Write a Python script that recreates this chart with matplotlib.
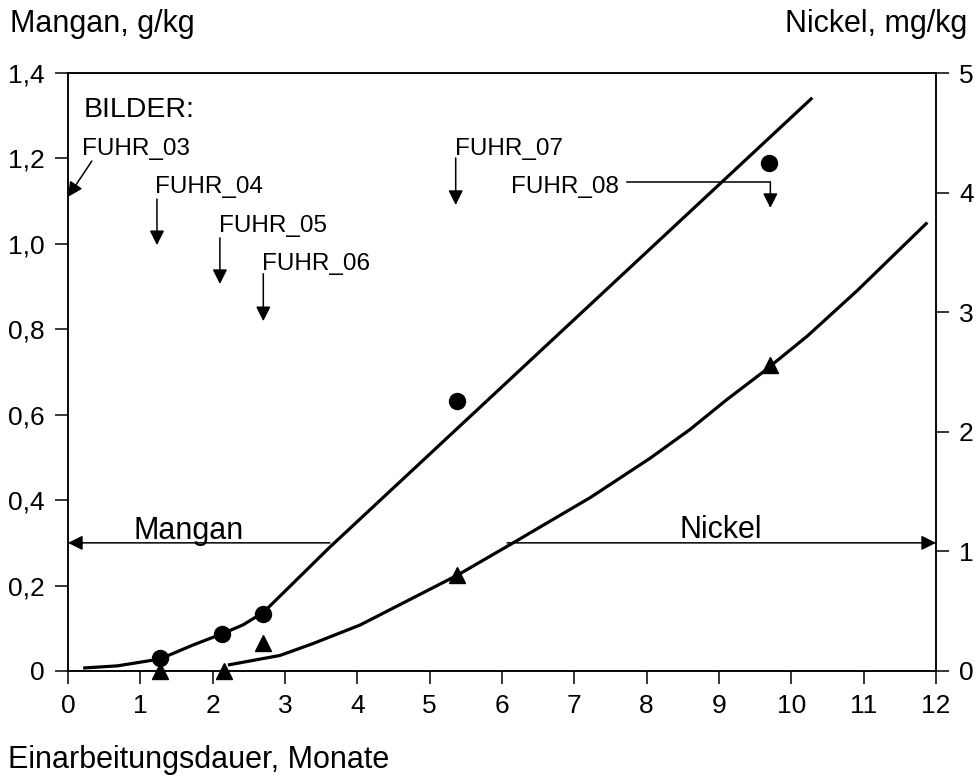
import numpy as np
import matplotlib
matplotlib.use("Agg")
import matplotlib.pyplot as plt

plt.rcParams['font.family'] = ['Liberation Sans', 'DejaVu Sans']

# Messpunkte
monate_mn = [1.27, 2.13, 2.70, 5.38, 9.69]
mangan = [0.030, 0.087, 0.133, 0.632, 1.19]          # g/kg
monate_ni = [1.27, 2.15, 2.70, 5.38, 9.71]
nickel = [0.0, 0.0, 0.23, 0.80, 2.56]                # mg/kg

# Kurvenverlauf
kurve_mn_x = [0.21, 0.68, 1.27, 1.73, 2.13, 2.42, 2.70, 3.62, 10.29]
kurve_mn_y = [0.007, 0.012, 0.028, 0.061, 0.087, 0.108, 0.137, 0.290, 1.342]
kurve_ni_x = [2.21, 2.93, 3.39, 4.04, 5.38, 6.15, 7.22, 8.05, 8.60, 9.11, 9.61, 10.22, 10.91, 11.88]
kurve_ni_y = [0.05, 0.13, 0.23, 0.385, 0.80, 1.07, 1.45, 1.78, 2.02, 2.27, 2.50, 2.80, 3.18, 3.75]

# Bilder: (Name, Textposition, Pfeil von, Pfeil nach)
bilder = [
    ("FUHR_03", (0.19, 1.208), (0.33, 1.194), (0.0, 1.110)),
    ("FUHR_04", (1.20, 1.119), (1.23, 1.105), (1.23, 0.997)),
    ("FUHR_05", (2.09, 1.028), (2.10, 1.014), (2.10, 0.906)),
    ("FUHR_06", (2.68, 0.939), (2.70, 0.930), (2.70, 0.819)),
    ("FUHR_07", (5.35, 1.208), (5.36, 1.201), (5.36, 1.091)),
]

left_ticks = [0, 0.2, 0.4, 0.6, 0.8, 1.0, 1.2, 1.4]
right_ticks = [0, 1, 2, 3, 4, 5]
x_ticks = list(range(0, 13))

fig = plt.figure(figsize=(9.77, 7.78), dpi=100)
ax = fig.add_axes([68 / 977, 107 / 778, 868 / 977, 598 / 778])
ax2 = ax.twinx()

ax.plot(kurve_mn_x, kurve_mn_y, color='black', lw=2.3, solid_capstyle='butt')
ax.plot(monate_mn, mangan, 'o', color='black', ms=11.5, clip_on=False)
ax2.plot(kurve_ni_x, kurve_ni_y, color='black', lw=2.3, solid_capstyle='butt')
ax2.plot(monate_ni, nickel, '^', color='black', ms=12, clip_on=False)

ax.set_xlim(0, 12)
ax.set_ylim(0, 1.4)
ax2.set_ylim(0, 5)

ax.set_xticks(x_ticks)
ax.set_xticklabels([str(t) for t in x_ticks])
ax.set_yticks(left_ticks)
ax.set_yticklabels(["0" if t == 0 else f"{t:.1f}".replace(".", ",") for t in left_ticks])
ax2.set_yticks(right_ticks)
ax2.set_yticklabels([str(t) for t in right_ticks])

for a in (ax, ax2):
    for s in a.spines.values():
        s.set_linewidth(1.1)
ax.tick_params(axis='both', direction='out', length=9.5, width=1.1, labelsize=19, pad=7)
ax.tick_params(axis='y', left=True, right=False)
ax2.tick_params(axis='y', direction='out', length=9.5, width=1.1, labelsize=19, pad=7)

arrow = dict(arrowstyle='-|>', color='black', lw=1.1, mutation_scale=22, shrinkA=0, shrinkB=0)

# Bilder
ax.text(0.21, 1.297, "BILDER:", fontsize=20.5, va='baseline', ha='left')
for name, txt, start, end in bilder:
    ax.text(txt[0], txt[1], name, fontsize=17.5, va='baseline', ha='left')
    ax.annotate("", xy=end, xytext=start, arrowprops=arrow)
ax.text(6.12, 1.119, "FUHR_08", fontsize=17.5, va='baseline', ha='left')
ax.plot([7.73, 9.71], [1.145, 1.145], color='black', lw=1.1)
ax.annotate("", xy=(9.71, 1.084), xytext=(9.71, 1.145), arrowprops=arrow)

# Bereichspfeile
ax.annotate("", xy=(0, 0.30), xytext=(3.62, 0.30), arrowprops=arrow, annotation_clip=False)
ax.annotate("", xy=(12, 0.30), xytext=(6.07, 0.30), arrowprops=arrow, annotation_clip=False)
ax.text(0.90, 0.309, "Mangan", fontsize=22, va='baseline', ha='left')
ax.text(8.46, 0.311, "Nickel", fontsize=22, va='baseline', ha='left')

# Achsentitel
fig.text(10 / 977, 1 - 32 / 778, "Mangan, g/kg", fontsize=22, va='baseline', ha='left')
fig.text(967 / 977, 1 - 32 / 778, "Nickel, mg/kg", fontsize=22, va='baseline', ha='right')
fig.text(8 / 977, 1 - 768 / 778, "Einarbeitungsdauer, Monate", fontsize=22, va='baseline', ha='left')

fig.savefig("out.png", dpi=100)
